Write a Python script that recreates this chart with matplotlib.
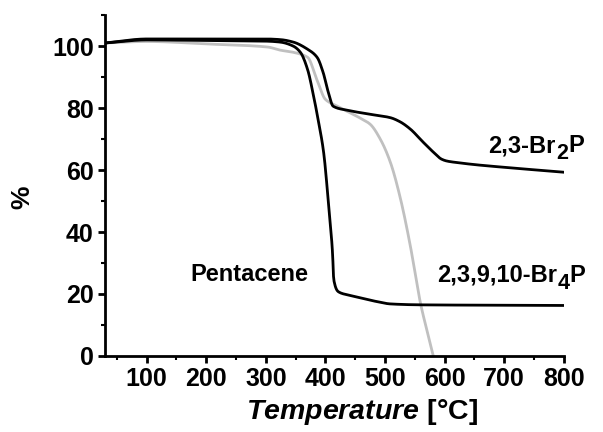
import matplotlib
matplotlib.use("Agg")
import matplotlib.pyplot as plt
import numpy as np
from matplotlib.ticker import MultipleLocator
from matplotlib.transforms import offset_copy

plt.rcParams['font.family'] = ['Liberation Sans', 'DejaVu Sans']
plt.rcParams['font.weight'] = 'bold'
plt.rcParams['mathtext.fontset'] = 'custom'
plt.rcParams['mathtext.rm'] = 'Liberation Sans:bold'
plt.rcParams['mathtext.bf'] = 'Liberation Sans:bold'
plt.rcParams['mathtext.it'] = 'Liberation Sans:italic:bold'
plt.rcParams['mathtext.bfit'] = 'Liberation Sans:italic:bold'

# TGA curves: temperature (°C) vs. residual mass (%)
pentacene_t = [30, 100, 200, 300, 324, 346, 358, 370, 380, 388, 397, 405, 412, 414, 422, 440, 458, 485, 509, 559, 650, 800]
pentacene_w = [101, 102, 101.8, 101.6, 101.3, 100, 98, 92.5, 84, 76, 65.7, 49.5, 33, 24.6, 20.7, 19.6, 18.8, 17.6, 16.8, 16.5, 16.4, 16.3]

br2p_t = [30, 100, 200, 300, 324, 346, 370, 386, 396, 405, 413, 437, 475, 509, 525, 542, 564, 581, 595, 604, 626, 648, 693, 800]
br2p_w = [101, 102.3, 102.3, 102.3, 102.1, 101.3, 99, 96.4, 91.6, 85, 80.6, 79.3, 78, 76.9, 75.6, 73.3, 69, 65.8, 63.5, 62.9, 62.3, 61.8, 61, 59.3]

br4p_t = [30, 100, 200, 303, 324, 346, 370, 386, 400, 420, 458, 475, 492, 509, 525, 542, 553, 559, 570, 581]
br4p_w = [101, 101.5, 100.7, 99.7, 98.7, 98, 96.4, 89, 82.8, 80.6, 76.8, 74.8, 70, 62.5, 51.5, 36, 24, 17.5, 8.5, 0]

# Curve labels: (prefix, subscript, suffix, x, y)
labels = [
    ('2,3-Br', '2', 'P', 673, 65.7),
    ('Pentacene', '', '', 174, 24.3),
    ('2,3,9,10-Br', '4', 'P', 587, 24.0),
]


def smooth(t, w, n=800):
    # monotone cubic (PCHIP-style) interpolation for a smooth trace
    x = np.asarray(t, float)
    y = np.asarray(w, float)
    tt = np.linspace(x[0], x[-1], n)
    h = np.diff(x)
    d = np.diff(y) / h
    m = np.zeros_like(y)
    for i in range(1, len(x) - 1):
        if d[i - 1] * d[i] > 0:
            w1 = 2 * h[i] + h[i - 1]
            w2 = h[i] + 2 * h[i - 1]
            m[i] = (w1 + w2) / (w1 / d[i - 1] + w2 / d[i])
    m[0] = d[0]
    m[-1] = d[-1]
    idx = np.clip(np.searchsorted(x, tt) - 1, 0, len(x) - 2)
    s = (tt - x[idx]) / h[idx]
    h00 = 2 * s**3 - 3 * s**2 + 1
    h10 = s**3 - 2 * s**2 + s
    h01 = -2 * s**3 + 3 * s**2
    h11 = s**3 - s**2
    yy = h00 * y[idx] + h10 * h[idx] * m[idx] + h01 * y[idx + 1] + h11 * h[idx] * m[idx + 1]
    return tt, yy


fig = plt.figure(figsize=(6.03, 4.32), dpi=100)
ax = fig.add_axes([0.174, 0.176, 0.761, 0.789])

ax.plot(*smooth(br4p_t, br4p_w), color='#c0c0c0', lw=2)
ax.plot(*smooth(br2p_t, br2p_w), color='black', lw=2)
ax.plot(*smooth(pentacene_t, pentacene_w), color='black', lw=2)

ax.set_xlim(30, 800)
ax.set_ylim(0, 110)
ax.set_xticks([100, 200, 300, 400, 500, 600, 700, 800])
ax.set_yticks([0, 20, 40, 60, 80, 100])
ax.xaxis.set_minor_locator(MultipleLocator(50))
ax.yaxis.set_minor_locator(MultipleLocator(10))

for s in ['top', 'right']:
    ax.spines[s].set_visible(False)
for s in ['left', 'bottom']:
    ax.spines[s].set_linewidth(2)

ax.tick_params(which='major', direction='out', length=5, width=2, labelsize=18, pad=3)
ax.tick_params(which='minor', direction='out', length=3, width=1.5)
for lab in ax.get_xticklabels() + ax.get_yticklabels():
    lab.set_fontweight('bold')

xl = ax.set_xlabel(r'$\mathbfit{Temperature}$ [°C]', fontsize=20.5, fontweight='bold')
xl.set_verticalalignment('center')
ax.xaxis.set_label_coords(0.56, -0.165)
yl = ax.set_ylabel('%', fontsize=19, fontweight='bold')
yl.set_verticalalignment('center')
ax.yaxis.set_label_coords(-0.179, 0.466)

# Labels with a full-height, lowered subscript
renderer = fig.canvas.get_renderer()
for pre, sub, suf, x, y in labels:
    t = ax.text(x, y, pre, fontsize=17, fontweight='bold', ha='left', va='baseline')
    if not sub:
        continue
    w = t.get_window_extent(renderer).width * 72.0 / fig.dpi
    tr = offset_copy(ax.transData, fig=fig, x=w + 0.3, y=-5, units='points')
    t2 = ax.text(x, y, sub, fontsize=15.5, fontweight='bold', ha='left', va='baseline', transform=tr)
    w2 = t2.get_window_extent(renderer).width * 72.0 / fig.dpi
    tr2 = offset_copy(ax.transData, fig=fig, x=w + w2 + 0.6, y=0, units='points')
    ax.text(x, y, suf, fontsize=17, fontweight='bold', ha='left', va='baseline', transform=tr2)

fig.savefig('out.png', dpi=100)
